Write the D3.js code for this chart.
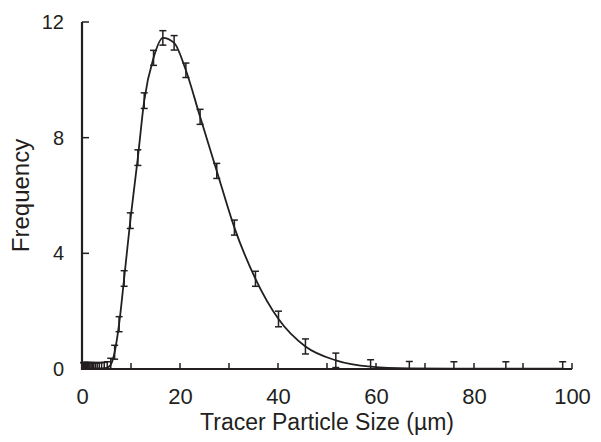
<!DOCTYPE html>
<html>
<head>
<meta charset="utf-8">
<script src="https://cdn.jsdelivr.net/npm/d3@7"></script>
<style>
  body { margin: 0; background: #fff; }
  svg { display: block; font-family: "Liberation Sans", Arial, sans-serif; }
</style>
</head>
<body>
<svg width="601" height="442"></svg>
<script>
// particle size bins (µm)
var sizes = [0.35, 0.40, 0.45, 0.52, 0.59, 0.67, 0.76, 0.86, 0.98, 1.12, 1.27, 1.44, 1.64, 1.86,
             2.1, 2.4, 2.73, 3.1, 3.52, 4.0, 4.54, 5.16, 5.87, 6.66, 7.57, 8.6, 9.86, 11.4, 12.7,
             14.6, 16.5, 18.8, 21.2, 24.1, 27.5, 31.1, 35.4, 40.1, 45.6, 51.8, 58.9, 66.8, 75.9,
             86.5, 98.1];
var freq = [0.02, 0.02, 0.02, 0.02, 0.02, 0.02, 0.02, 0.02, 0.02, 0.02, 0.02, 0.02, 0.02, 0.02,
            0.02, 0.02, 0.02, 0.02, 0.02, 0.02, 0.03, 0.05, 0.15, 0.58, 1.55, 3.13, 5.13, 7.31, 9.28,
            10.76, 11.45, 11.28, 10.33, 8.72, 6.85, 4.89, 3.12, 1.73, 0.78, 0.30, 0.08, 0.02, 0.01,
            0.01, 0.01];
var err = [0.2, 0.2, 0.2, 0.2, 0.2, 0.2, 0.2, 0.2, 0.2, 0.2, 0.2, 0.2, 0.2, 0.2,
           0.2, 0.2, 0.2, 0.2, 0.2, 0.2, 0.2, 0.2, 0.22, 0.24, 0.26, 0.27, 0.27, 0.27, 0.27,
           0.26, 0.25, 0.25, 0.25, 0.26, 0.26, 0.26, 0.26, 0.27, 0.26, 0.25, 0.24, 0.24, 0.24,
           0.24, 0.24];
var xTicks = [0, 20, 40, 60, 80, 100];
var xMinor = [10, 20, 30, 40, 50, 60, 70, 80, 90, 100];
var yTicks = [0, 4, 8, 12];

var data = sizes.map((s, i) => ({x: s, y: freq[i], e: err[i]}));

var plotL = 82, plotR = 572, plotT = 22, plotB = 369;
var ink = "#231f20";

var x = d3.scaleLinear().domain([0, 100]).range([plotL, plotR]);
var y = d3.scaleLinear().domain([0, 12]).range([plotB, plotT]);

var svg = d3.select("svg");

//curve
var line = d3.line()
  .x(d => x(d.x))
  .y(d => y(d.y))
  .curve(d3.curveMonotoneX);

svg.append("path")
  .datum(data)
  .attr("d", line)
  .attr("fill", "none")
  .attr("stroke", ink)
  .attr("stroke-width", 1.8);

//error bars
var bars = svg.append("g")
  .attr("stroke", ink)
  .attr("stroke-width", 1.5)
  .selectAll("g")
  .data(data)
  .enter()
  .append("g");

bars.append("line")
  .attr("x1", d => x(d.x)).attr("x2", d => x(d.x))
  .attr("y1", d => y(Math.max(0, d.y - d.e)))
  .attr("y2", d => y(d.y + d.e));
bars.append("line")
  .attr("x1", d => x(d.x) - 3.5).attr("x2", d => x(d.x) + 3.5)
  .attr("y1", d => y(d.y + d.e)).attr("y2", d => y(d.y + d.e));
bars.filter(d => d.y - d.e > 0)
  .append("line")
  .attr("x1", d => x(d.x) - 3.5).attr("x2", d => x(d.x) + 3.5)
  .attr("y1", d => y(d.y - d.e)).attr("y2", d => y(d.y - d.e));

//axes
var xAxis = svg.append("g")
  .attr("transform", `translate(0, ${plotB})`)
  .call(d3.axisBottom(x).tickValues(xTicks).tickSize(0).tickPadding(0))
xAxis.select(".domain").remove();
xAxis.selectAll("text")
  .attr("y", 35).attr("dy", null)
  .attr("fill", ink)
  .style("font-size", "22px")
  .style("font-family", "Liberation Sans, Arial, sans-serif");

svg.append("g")
  .selectAll("line")
  .data(xMinor)
  .enter()
  .append("line")
  .attr("x1", d => x(d)).attr("x2", d => x(d))
  .attr("y1", plotB).attr("y2", plotB - 6)
  .attr("stroke", ink).attr("stroke-width", 1.5);

var yAxis = svg.append("g")
  .attr("transform", `translate(${plotL}, 0)`)
  .call(d3.axisLeft(y).tickValues(yTicks).tickSize(0).tickPadding(18));
yAxis.select(".domain").remove();
yAxis.selectAll("text")
  .attr("fill", ink)
  .style("font-size", "20px")
  .style("font-family", "Liberation Sans, Arial, sans-serif");

svg.append("g")
  .selectAll("line")
  .data(yTicks)
  .enter()
  .append("line")
  .attr("x1", plotL).attr("x2", plotL + 7)
  .attr("y1", d => y(d)).attr("y2", d => y(d))
  .attr("stroke", ink).attr("stroke-width", 1.5);

svg.append("path")
  .attr("d", `M${plotL},${plotT}V${plotB}H${plotR}`)
  .attr("fill", "none")
  .attr("stroke", ink)
  .attr("stroke-width", 2.2);

//titles
svg.append("text")
  .attr("x", (plotL + plotR) / 2)
  .attr("y", 430)
  .attr("text-anchor", "middle")
  .attr("fill", ink)
  .style("font-size", "23px")
  .text("Tracer Particle Size (µm)");

svg.append("text")
  .attr("transform", `translate(29, ${(plotT + plotB) / 2}) rotate(-90)`)
  .attr("text-anchor", "middle")
  .attr("fill", ink)
  .style("font-size", "24px")
  .text("Frequency");
</script>
</body>
</html>
